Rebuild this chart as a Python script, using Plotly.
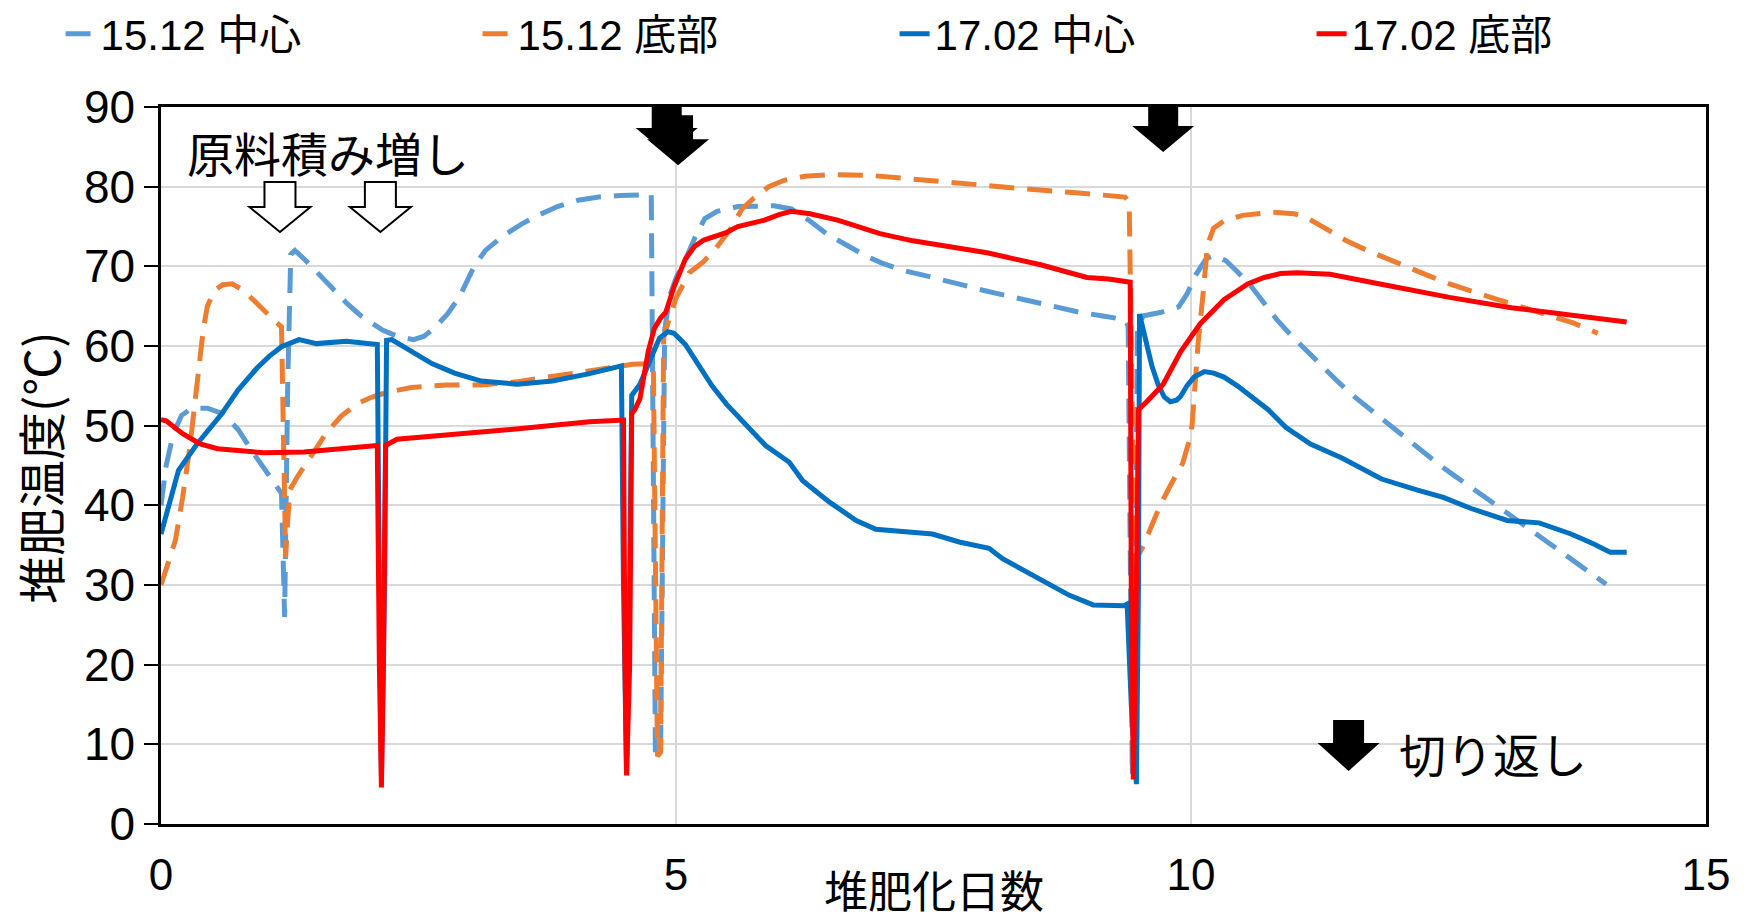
import plotly.graph_objects as go

# --- 15.12 中心 (Dec 2015 run, centre of pile) ---
x_1512_center = [0, 0.05, 0.12, 0.2, 0.3, 0.45, 0.6, 0.75, 0.9, 1.05, 1.17, 1.2, 1.23, 1.26, 1.3,
                 1.4, 1.52, 1.66, 1.8, 1.94, 2.15, 2.3, 2.45, 2.55, 2.65, 2.78, 2.9, 3.04, 3.15,
                 3.32, 3.5, 3.66, 3.85, 4.05, 4.25, 4.46, 4.76, 4.78, 4.8, 4.85, 4.87, 4.89, 4.94,
                 5.0, 5.09, 5.18, 5.28, 5.4, 5.6, 5.75, 5.95, 6.12, 6.3, 6.46, 6.65, 6.83, 7.0,
                 7.2, 7.4, 7.61, 7.8, 7.98, 8.15, 8.35, 8.55, 8.73, 8.93, 9.13, 9.36, 9.39, 9.41,
                 9.43, 9.46, 9.48, 9.54, 9.7, 9.88, 9.96, 10.05, 10.15, 10.23, 10.34, 10.46, 10.59,
                 10.72, 10.84, 10.96, 11.09, 11.25, 11.42, 11.58, 11.75, 11.91, 12.07, 12.23, 12.4,
                 12.56, 12.72, 12.88, 13.04, 13.2, 13.36, 13.54, 13.72, 13.88, 14.03]
y_1512_center = [40, 45, 49, 51.3, 52.2, 52.2, 51.5, 49.5, 46.5, 43.8, 41.5, 26, 55, 71.5, 72,
                 70.8, 69.1, 67.3, 65.4, 63.8, 62, 61.2, 60.8, 61.2, 62.2, 64, 66.2, 70, 72,
                 73.8, 75.3, 76.4, 77.5, 78.3, 78.7, 78.9, 79, 30, 9, 8.5, 40, 62, 66.3,
                 68.5, 70.8, 73.5, 76, 76.9, 77.5, 77.6, 77.6, 77.2, 75.7, 74.1, 72.7, 71.4, 70.4,
                 69.5, 68.9, 68.3, 67.6, 67, 66.5, 65.9, 65.3, 64.7, 64.2, 63.8, 63.3, 62.5, 30,
                 6, 30, 62.5, 63.8, 64.2, 64.9, 66.5, 69, 71, 71.4, 70.7, 69.2, 67.4,
                 65.2, 63.2, 61.5, 59.8, 57.7, 55.6, 53.7, 51.9, 50.2, 48.5, 46.8, 45.2,
                 43.7, 42.3, 40.8, 39.3, 37.8, 36.4, 34.7, 33.1, 31.6, 30.1]

# --- 15.12 底部 (Dec 2015 run, bottom of pile) ---
x_1512_bottom = [0, 0.07, 0.14, 0.21, 0.28, 0.33, 0.37, 0.41, 0.45, 0.52, 0.6, 0.69, 0.8, 0.96,
                 1.1, 1.17, 1.19, 1.21, 1.23, 1.25, 1.32, 1.39, 1.5, 1.6, 1.75, 1.91, 2.05, 2.2,
                 2.43, 2.77, 3.11, 3.45, 3.8, 4.15, 4.46, 4.58, 4.78, 4.8, 4.82, 4.85, 4.87, 4.88,
                 4.9, 5.0, 5.13, 5.26, 5.39, 5.52, 5.64, 5.75, 5.9, 6.05, 6.25, 6.5, 6.9, 7.31,
                 7.72, 8.13, 8.5, 8.91, 9.36, 9.4, 9.41, 9.43, 9.45, 9.5, 9.54, 9.62, 9.7, 9.8,
                 9.92, 9.98, 10.01, 10.04, 10.07, 10.12, 10.16, 10.22, 10.32, 10.5, 10.79, 11.0,
                 11.11, 11.3, 11.51, 11.71, 11.91, 12.11, 12.31, 12.51, 12.71, 12.91, 13.11,
                 13.31, 13.51, 13.71, 13.95]
y_1512_bottom = [30, 33, 35.6, 41, 47.3, 53, 57.4, 62, 65, 67, 67.7, 67.8, 67, 64.9,
                 63.2, 62.4, 45, 33.5, 38, 41.9, 43.5, 44.8, 47, 49, 51.2, 52.8, 53.6, 54.2,
                 54.8, 55.1, 55.1, 55.5, 56.2, 56.9, 57.5, 57.7, 57.8, 30, 8.5, 9, 35, 61,
                 62, 66, 69.2, 70.5, 72.3, 74.5, 77.2, 78.5, 80, 80.8, 81.3, 81.5, 81.4, 80.9,
                 80.5, 80, 79.6, 79.2, 78.7, 78, 67.5, 45, 33, 34, 35, 37.5, 40, 42.5,
                 45.3, 48, 50, 55.2, 60.5, 66.9, 72.7, 74.8, 75.7, 76.4, 76.8, 76.6,
                 76.2, 74.8, 73.2, 72, 70.9, 69.8, 68.8, 67.8, 66.9, 66.1, 65.3,
                 64.5, 63.8, 62.9, 61.6]

# --- 17.02 中心 (Feb 2017 run, centre of pile) ---
x_1702_center = [0, 0.07, 0.17, 0.35, 0.59, 0.75, 0.93, 1.05, 1.17, 1.34, 1.51, 1.8, 2.08, 2.1,
                 2.12, 2.14, 2.17, 2.19, 2.24, 2.4, 2.63, 2.85, 3.11, 3.46, 3.8, 4.15, 4.45, 4.47,
                 4.49, 4.52, 4.55, 4.57, 4.65, 4.75, 4.84, 4.92, 4.98, 5.09, 5.22, 5.35, 5.49,
                 5.68, 5.87, 6.1, 6.23, 6.49, 6.75, 6.94, 7.27, 7.49, 7.75, 8.04, 8.17, 8.5,
                 8.82, 9.05, 9.35, 9.38, 9.42, 9.47, 9.49, 9.5, 9.56, 9.62, 9.68, 9.74, 9.8,
                 9.86, 9.9, 9.96, 10.03, 10.13, 10.22, 10.32, 10.45, 10.61, 10.75, 10.92, 11.16,
                 11.47, 11.85, 12.2, 12.45, 12.72, 13.07, 13.38, 13.69, 13.9, 14.07, 14.23]
y_1702_center = [36.4, 39.8, 44.4, 47.7, 51.5, 54.5, 57.2, 58.7, 59.9, 60.8, 60.3, 60.6, 60.3, 60.2,
                 30, 6, 30, 60.7, 60.8, 59.5, 57.8, 56.6, 55.6, 55.2, 55.6, 56.5, 57.4, 57.5,
                 30, 6.3, 30, 53.8, 55.2, 58.1, 61, 61.8, 61.6, 60.2, 57.5, 55, 52.7,
                 50, 47.5, 45.4, 43.1, 40.4, 38.1, 37.0, 36.6, 36.4, 35.4, 34.6, 33.3, 31.0,
                 28.7, 27.5, 27.4, 27.6, 15, 5.0, 30, 64, 61, 57.5, 55.2, 53.6, 53,
                 53.2, 53.7, 55, 56.1, 56.8, 56.6, 56.1, 55, 53.5, 52, 49.8, 47.7,
                 45.9, 43.3, 41.9, 41, 39.6, 38.1, 37.8, 36.4, 35.2, 34.1, 34.1]

# --- 17.02 底部 (Feb 2017 run, bottom of pile) ---
x_1702_bottom = [0, 0.05, 0.21, 0.38, 0.55, 0.69, 1.0, 1.39, 1.73, 2.08, 2.1, 2.12, 2.14, 2.16,
                 2.18, 2.29, 2.77, 3.47, 4.16, 4.48, 4.49, 4.505, 4.52, 4.55, 4.57, 4.6, 4.65,
                 4.73, 4.79, 4.85, 4.9, 4.98, 5.09, 5.18, 5.27, 5.48, 5.6, 5.86, 6.0, 6.12, 6.3,
                 6.57, 6.98, 7.3, 7.61, 8.02, 8.54, 8.99, 9.2, 9.39, 9.41, 9.42, 9.44, 9.47,
                 9.49, 9.57, 9.73, 9.9, 10.09, 10.32, 10.55, 10.71, 10.87, 11.03, 11.35, 11.91,
                 12.51, 13.11, 13.71, 14.23]
y_1702_bottom = [50.75, 50.6, 49, 47.7, 47.1, 46.9, 46.6, 46.7, 47.1, 47.5, 47.5, 20, 4.6, 20,
                 47.5, 48.3, 48.8, 49.6, 50.5, 50.7, 50.7, 20, 6.1, 20, 51.5, 52, 53.4,
                 59.3, 62.2, 63.5, 64.2, 67.4, 70.9, 72.5, 73.3, 74.2, 75.0, 75.8, 76.5, 76.9, 76.6,
                 75.8, 74.1, 73.2, 72.5, 71.7, 70.2, 68.6, 68.4, 68.1, 68, 30, 5.6, 30,
                 52, 53, 55.2, 59.3, 62.8, 65.8, 67.8, 68.6, 69.1, 69.2, 69.0, 67.6,
                 66.1, 64.8, 63.8, 63.0]

# Event markers: material added (hollow arrows) and turning (black arrows)
addition_days = [1.155, 2.13]
addition_arrow_tip = 74.3
turning_days = [4.91, 5.02, 9.73]
turning_arrow_tips = [84.1, 82.7, 84.35]

CJK = "Noto Sans CJK JP"
LATIN = "Liberation Sans, Arial, Noto Sans CJK JP"

fig = go.Figure()
series = [
    ("15.12 中心", x_1512_center, y_1512_center, "#5B9BD5", "25px,13px"),
    ("15.12 底部", x_1512_bottom, y_1512_bottom, "#ED7D31", "25px,13px"),
    ("17.02 中心", x_1702_center, y_1702_center, "#0070C0", "solid"),
    ("17.02 底部", x_1702_bottom, y_1702_bottom, "#FF0000", "solid"),
]
for name, xs, ys, color, dash in series:
    fig.add_trace(go.Scatter(
        x=xs, y=ys, name=name, mode="lines",
        line=dict(color=color, width=5, dash=dash),
    ))


def down_arrow(x, tip, shaft_hw, shaft_h, head_hw, head_h, fill, outline):
    top = shaft_h + head_h
    path = (f"M {-shaft_hw},{top} L {shaft_hw},{top} L {shaft_hw},{head_h} "
            f"L {head_hw},{head_h} L 0,0 L {-head_hw},{head_h} L {-shaft_hw},{head_h} Z")
    return dict(type="path", xref="x", yref="y", xsizemode="pixel", ysizemode="pixel",
                xanchor=x, yanchor=tip, path=path, fillcolor=fill,
                line=dict(color=outline, width=2 if fill == "white" else 0), layer="above")


shapes = []
for d in addition_days:
    shapes.append(down_arrow(d, addition_arrow_tip, 15.5, 25, 30.5, 25, "white", "black"))
for d, tip in zip(turning_days, turning_arrow_tips):
    shapes.append(down_arrow(d, tip, 15, 24, 31, 26, "black", "black"))
# key arrow next to the 切り返し label
shapes.append(down_arrow(11.53, 6.65, 15.5, 23, 31, 28, "black", "black"))

annotations = [
    dict(x=0.23, y=84.4, xref="x", yref="y", text="原料積み増し", showarrow=False,
         xanchor="left", yanchor="middle", font=dict(family=CJK, size=47, color="black")),
    dict(x=12.0, y=9.0, xref="x", yref="y", text="切り返し", showarrow=False,
         xanchor="left", yanchor="middle", font=dict(family=CJK, size=47, color="black")),
    # axis titles
    dict(x=0.5, y=-0.091, xref="paper", yref="paper", text="堆肥化日数", showarrow=False,
         xanchor="center", yanchor="middle", font=dict(family=CJK, size=44, color="black")),
    dict(x=-0.079, y=0.4965, xref="paper", yref="paper", text="堆肥温度(℃)", showarrow=False,
         textangle=-90, xanchor="center", yanchor="middle",
         font=dict(family=CJK, size=48, color="black")),
]

fig.update_layout(
    width=1746, height=921,
    margin=dict(l=161, r=40, t=107, b=97, autoexpand=False),
    paper_bgcolor="white", plot_bgcolor="white",
    shapes=shapes, annotations=annotations,
    legend=dict(orientation="h", x=-0.065, xanchor="left", y=1.102, yanchor="middle",
                entrywidth=372, entrywidthmode="pixels",
                font=dict(family=LATIN, size=42, color="black"),
                bgcolor="rgba(0,0,0,0)"),
    showlegend=True,
)
fig.update_xaxes(
    range=[0, 15], tickvals=[0, 5, 10, 15], ticks="",
    showgrid=True, gridcolor="#D9D9D9", gridwidth=2, zeroline=False,
    showline=True, linecolor="black", linewidth=2.5, mirror=True,
    tickfont=dict(family=LATIN, size=44, color="black"), ticklabelstandoff=10,
)
fig.update_yaxes(
    range=[0, 90], dtick=10, ticks="outside", ticklen=14, tickwidth=2, tickcolor="black",
    showgrid=True, gridcolor="#D9D9D9", gridwidth=2, zeroline=False,
    showline=True, linecolor="black", linewidth=2.5, mirror=True,
    tickfont=dict(family=LATIN, size=46, color="black"),
)

fig.write_html("out.html")
